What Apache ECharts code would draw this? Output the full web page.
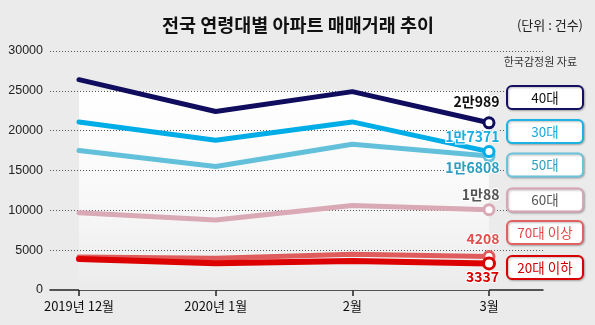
<!DOCTYPE html>
<html><head><meta charset="utf-8">
<script src="https://cdn.jsdelivr.net/npm/echarts@6/dist/echarts.min.js"></script>
<style>html,body{margin:0;padding:0;background:#ebebeb}#c{width:595px;height:325px}</style>
</head><body><div id="c"></div>
<script>
// ---- data ----
const categories = ['2019년 12월', '2020년 1월', '2월', '3월'];
const seriesNames = ['60대', '50대', '30대', '40대', '70대 이상', '20대 이하'];
const age60 = [9700, 8800, 10600, 10088];
const age50 = [17500, 15500, 18300, 16808];
const age30 = [21100, 18800, 21100, 17371];
const age40 = [26400, 22400, 24900, 20989];
const age70 = [4150, 4000, 4500, 4208];
const age20 = [3900, 3350, 3640, 3337];
const endLabels = ['1만88', '1만6808', '1만7371', '2만989', '4208', '3337'];
const legendOrder = ['40대', '30대', '50대', '60대', '70대 이상', '20대 이하'];
const yMax = 30000, yStep = 5000;
const titleText = '전국 연령대별 아파트 매매거래 추이';
const unitText = '(단위 : 건수)';
const sourceText = '한국감정원 자료';

// ---- styles ----
const FONT = "'Noto Sans CJK KR', sans-serif";
const lineColors = ['#d9a9b6', '#62c0da', '#00ade6', '#100d5e', '#e05c5c', '#dc0000'];
const labelColors = ['#555555', '#2c9ec0', '#18aee2', '#111111', '#e05050', '#d80000'];
const lineWidths = [5, 5, 5, 5, 5, 6];
const labelDy = [-13, 13, -13, -20, -16, 15];
const boxStyle = {
  '40대': {border: '#141160', text: '#111'},
  '30대': {border: '#1cb2e4', text: '#17a9dd'},
  '50대': {border: '#6cc3dc', text: '#2f9fc0'},
  '60대': {border: '#d7a6b4', text: '#555'},
  '70대 이상': {border: '#e06262', text: '#e04848'},
  '20대 이하': {border: '#d80000', text: '#cc0000'}
};
const boxTops = [86, 120, 153.5, 188.5, 221, 256];

const allValues = [age60, age50, age30, age40, age70, age20];

const lineSeries = allValues.map((vals, k) => ({
  name: seriesNames[k],
  type: 'line',
  xAxisIndex: 1, yAxisIndex: 1,
  z: 5 + k,
  symbol: 'none',
  lineStyle: {color: lineColors[k], width: lineWidths[k], cap: 'round', join: 'round'},
  itemStyle: {color: lineColors[k]},
  emphasis: {disabled: true},
  data: vals.map((v, i) => i === vals.length - 1 ? {
    value: v,
    symbol: 'circle',
    symbolSize: k === 5 ? 11 : 10,
    itemStyle: {color: '#ffffff', borderColor: lineColors[k], borderWidth: 3},
    label: {
      show: true,
      formatter: endLabels[k],
      position: [17, labelDy[k] + 5],
      align: 'right',
      verticalAlign: 'middle',
      fontFamily: FONT,
      fontWeight: 'bold',
      fontSize: 14,
      color: labelColors[k],
      textBorderColor: '#ffffff',
      textBorderWidth: 2
    }
  } : v)
}));

const bgSeries = {
  type: 'line', xAxisIndex: 1, yAxisIndex: 1, z: 1,
  data: categories.map(() => null), symbol: 'none', silent: true,
  markArea: {
    silent: true,
    itemStyle: {
      color: {type: 'linear', x: 0, y: 0, x2: 0, y2: 1, colorStops: [
        {offset: 0, color: '#ffffff'}, {offset: 0.55, color: '#f8f8f8'}, {offset: 1, color: '#ebebeb'}]}
    },
    data: [[{coord: [categories[0], 25000]}, {coord: [categories[categories.length - 1], 0]}]]
  }
};

const graphics = [
  {type: 'text', x: 298, y: 25, style: {text: titleText, font: "bold 18.5px 'Noto Sans CJK KR'", fill: '#111', textAlign: 'center', textVerticalAlign: 'middle'}},
  {type: 'text', x: 583, y: 25, style: {text: unitText, font: "13px 'Noto Sans CJK KR'", fill: '#222', textAlign: 'right', textVerticalAlign: 'middle'}},
  {type: 'text', x: 577, y: 62, style: {text: sourceText, font: "11px 'Noto Sans CJK KR'", fill: '#333', textAlign: 'right', textVerticalAlign: 'middle'}}
];
legendOrder.forEach((name, i) => {
  const s = boxStyle[name];
  graphics.push({
    type: 'rect', z: 10,
    shape: {x: 507, y: boxTops[i], width: 76, height: 23, r: 5},
    style: {fill: '#ffffff', stroke: s.border, lineWidth: 2, shadowBlur: 2, shadowColor: 'rgba(0,0,0,0.25)', shadowOffsetX: 1, shadowOffsetY: 1}
  });
  graphics.push({
    type: 'text', z: 11, x: 545, y: boxTops[i] + 11.5,
    style: {text: name, font: "13.5px 'Noto Sans CJK KR'", fill: s.text, textAlign: 'center', textVerticalAlign: 'middle'}
  });
});

const chart = echarts.init(document.getElementById('c'), null, {renderer: 'canvas'});
chart.setOption({
  backgroundColor: '#ebebeb',
  animation: false,
  grid: [
    {left: 50, right: 52, top: 51, bottom: 35},
    {left: 79, right: 106, top: 51, bottom: 35}
  ],
  xAxis: [
    {gridIndex: 0, type: 'value', min: 0, max: 1,
      axisLine: {show: true, lineStyle: {color: '#222', width: 1.5}},
      axisTick: {show: false}, axisLabel: {show: false}, splitLine: {show: false}},
    {gridIndex: 1, type: 'category', data: categories, boundaryGap: false,
      axisLine: {show: false},
      axisTick: {show: true, length: 6, lineStyle: {color: '#222', width: 1.5}},
      axisLabel: {margin: 10, fontFamily: FONT, fontSize: 13, color: '#111'},
      splitLine: {show: false}}
  ],
  yAxis: [
    {gridIndex: 0, type: 'value', min: 0, max: yMax, interval: yStep, z: 3,
      axisLine: {show: false}, axisTick: {show: false},
      axisLabel: {margin: 7, fontFamily: "'Liberation Sans', Arial, sans-serif", fontSize: 12.5, color: '#222',
        formatter: v => String(v)},
      splitLine: {show: true, lineStyle: {color: '#555', width: 1, type: [1, 2]}}},
    {gridIndex: 1, type: 'value', min: 0, max: yMax, interval: yStep, show: false, splitLine: {show: false}}
  ],
  graphic: graphics,
  series: [bgSeries].concat(lineSeries)
});
</script>
</body></html>
